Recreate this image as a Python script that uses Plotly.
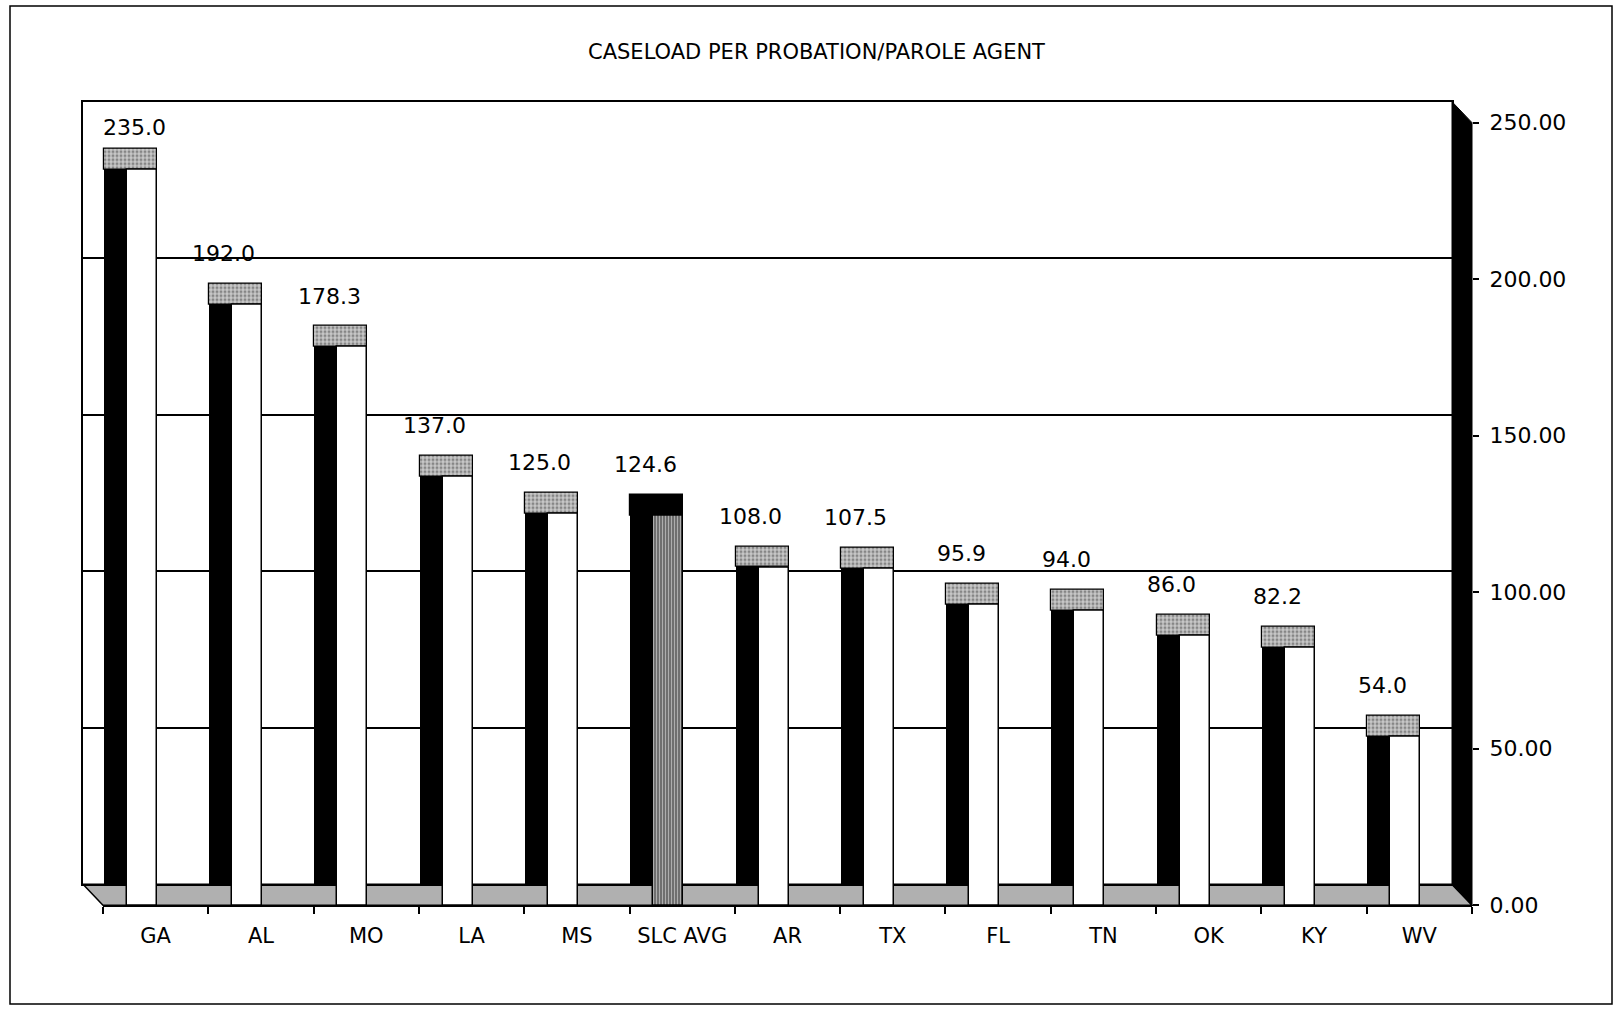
import plotly.graph_objects as go

# ---------------- data ----------------
categories = ["GA", "AL", "MO", "LA", "MS", "SLC AVG", "AR", "TX", "FL", "TN", "OK", "KY", "WV"]
caseload = [235.0, 192.0, 178.3, 137.0, 125.0, 124.6, 108.0, 107.5, 95.9, 94.0, 86.0, 82.2, 54.0]
value_labels = ["235.0", "192.0", "178.3", "137.0", "125.0", "124.6", "108.0",
                "107.5", "95.9", "94.0", "86.0", "82.2", "54.0"]
average_category = "SLC AVG"
y_tick_values = [0, 50, 100, 150, 200, 250]
y_tick_labels = ["0.00", "50.00", "100.00", "150.00", "200.00", "250.00"]
title_text = "CASELOAD PER PROBATION/PAROLE AGENT"

# ---------------- layout geometry (pixels of the reference frame) ----------------
W, H = 1616, 1010
Y_STRETCH, Y_SHIFT = 1.022, -12        # compensates the vertical squeeze of the capture
HF = round(H * Y_STRETCH)
FRONT = dict(x0=103, x1=1472, y_top=123, y_bot=908)   # front plane of the 3D box
DX, DY = 20, 21                                         # depth offset of the back wall
BACK = dict(x0=FRONT["x0"] - DX, x1=FRONT["x1"] - DX,
            y_top=FRONT["y_top"] - DY, y_bot=FRONT["y_bot"] - DY)
Y_MAX = 250
n = len(categories)
cat_px = (FRONT["x1"] - FRONT["x0"]) / n
px_per_unit = (FRONT["y_bot"] - FRONT["y_top"]) / Y_MAX
depth_units = DY / px_per_unit

BAR_W = 30 / cat_px
BAR_OFF = -14 / cat_px - BAR_W / 2
SIDE_EXTRA = 3 / cat_px
SIDE_W = BAR_W + SIDE_EXTRA
SIDE_OFF = BAR_OFF - SIDE_EXTRA
TOP_W = SIDE_W + DX / cat_px

FONT = "DejaVu Sans"
LABEL_SIZE = 22
LABEL_DX, LABEL_DY = -37, 50
LABEL_MIN_CENTRE_Y = FRONT["y_top"] + 6


def fx(px):
    return px / W


def fy(py):
    return 1 - py / H


def text_width(s, size):
    return sum(0.318 if ch == "." else 0.636 for ch in s) * size


is_avg = [c == average_category for c in categories]

fig = go.Figure()

# back plane: side faces (black) and top faces (speckled)
fig.add_trace(go.Bar(
    x=categories, y=caseload, width=SIDE_W, offset=SIDE_OFF,
    marker=dict(color="black", line=dict(width=0)),
    xaxis="x", yaxis="y", showlegend=False, hoverinfo="skip"))

fig.add_trace(go.Bar(
    x=categories, y=[depth_units] * n, base=[v - depth_units for v in caseload],
    width=TOP_W, offset=SIDE_OFF,
    marker=dict(
        color=["black" if a else "#c8c8c8" for a in is_avg],
        pattern=dict(shape=["" if a else "." for a in is_avg],
                     fgcolor="black", bgcolor="#d8d8d8", size=4, solidity=0.45),
        line=dict(color="black", width=1.2)),
    xaxis="x", yaxis="y", showlegend=False, hoverinfo="skip"))

# front faces
fig.add_trace(go.Bar(
    x=categories, y=caseload, width=BAR_W, offset=BAR_OFF,
    marker=dict(
        color=["#5a5a5a" if a else "white" for a in is_avg],
        pattern=dict(shape=["|" if a else "" for a in is_avg],
                     fgcolor="#111111", bgcolor="#777777", size=3, solidity=0.5),
        line=dict(color="black", width=1.5)),
    xaxis="x2", yaxis="y2", showlegend=False,
    hovertemplate="%{x}: %{y:.1f}<extra></extra>"))

# value labels (kept inside the front plane)
for i, (c, v, t) in enumerate(zip(categories, caseload, value_labels)):
    centre_x = FRONT["x0"] + (i + 0.5) * cat_px
    xshift = max(LABEL_DX, FRONT["x0"] + text_width(t, LABEL_SIZE) / 2 - centre_x)
    top_y = FRONT["y_bot"] - v * px_per_unit
    dy = min(LABEL_DY, top_y - LABEL_MIN_CENTRE_Y)
    fig.add_annotation(x=c, y=v, xref="x2", yref="y2", text=t, showarrow=False,
                       xshift=xshift, yshift=dy * Y_STRETCH,
                       font=dict(family=FONT, size=LABEL_SIZE, color="black"))

# title
fig.add_annotation(x=fx(816), y=fy(52), xref="paper", yref="paper", text=title_text,
                   showarrow=False, xanchor="center", yanchor="middle",
                   font=dict(family=FONT, size=21, color="black"))

shapes = []
# floor
shapes.append(dict(type="path", xref="paper", yref="paper", layer="between",
                   path=f"M {fx(BACK['x0'])},{fy(BACK['y_bot'])} L {fx(BACK['x1'])},{fy(BACK['y_bot'])} "
                        f"L {fx(FRONT['x1'])},{fy(FRONT['y_bot'])} L {fx(FRONT['x0'])},{fy(FRONT['y_bot'])} Z",
                   fillcolor="#b0b0b0", line=dict(color="black", width=1.5)))
# right side wall (black)
shapes.append(dict(type="path", xref="paper", yref="paper", layer="above",
                   path=f"M {fx(BACK['x1'])},{fy(BACK['y_top'])} L {fx(FRONT['x1'])},{fy(FRONT['y_top'])} "
                        f"L {fx(FRONT['x1'])},{fy(FRONT['y_bot'])} L {fx(BACK['x1'])},{fy(BACK['y_bot'])} Z",
                   fillcolor="black", line=dict(color="black", width=1)))
# outer frame
shapes.append(dict(type="rect", xref="paper", yref="paper", layer="above",
                   x0=fx(10), y0=fy(1007), x1=fx(1612), y1=fy(6),
                   line=dict(color="black", width=1.5)))

fig.update_layout(
    width=W, height=HF, margin=dict(l=0, r=0, t=0, b=0),
    paper_bgcolor="white", plot_bgcolor="rgba(0,0,0,0)",
    barmode="overlay", bargap=0, showlegend=False,
    shapes=shapes,
    xaxis=dict(domain=[fx(BACK["x0"]), fx(BACK["x1"])], type="category",
               categoryorder="array", categoryarray=categories,
               range=[-0.5, n - 0.5], showticklabels=False, ticks="",
               showgrid=False, zeroline=False, showline=True, mirror=True,
               linecolor="black", linewidth=2, anchor="y", fixedrange=True),
    yaxis=dict(domain=[fy(BACK["y_bot"]), fy(BACK["y_top"])], range=[0, Y_MAX],
               tickvals=y_tick_values, showticklabels=False, ticks="",
               showgrid=True, gridcolor="black", gridwidth=1.5, zeroline=False,
               showline=True, mirror=True, linecolor="black", linewidth=2,
               anchor="x", fixedrange=True),
    xaxis2=dict(domain=[fx(FRONT["x0"]), fx(FRONT["x1"])], type="category",
                categoryorder="array", categoryarray=categories,
                range=[-0.5, n - 0.5], anchor="y2",
                tickson="boundaries", ticks="outside", ticklen=7, tickwidth=1.5,
                tickcolor="black", ticklabelstandoff=10,
                tickfont=dict(family=FONT, size=21, color="black"),
                showgrid=False, zeroline=False, showline=True,
                linecolor="black", linewidth=2, fixedrange=True),
    yaxis2=dict(domain=[fy(FRONT["y_bot"]), fy(FRONT["y_top"])], range=[0, Y_MAX],
                anchor="x2", side="right",
                tickvals=y_tick_values, ticktext=y_tick_labels,
                ticks="outside", ticklen=6, tickwidth=1.5, tickcolor="black",
                ticklabelstandoff=6,
                tickfont=dict(family=FONT, size=22, color="black"),
                showgrid=False, zeroline=False, showline=False, fixedrange=True),
)

# pin the chart to the page corner so it fills the window exactly
post = ("document.body.style.margin='0';document.body.style.overflow='hidden';"
        "var d=document.getElementById('{plot_id}');"
        f"d.style.position='fixed';d.style.left='0px';d.style.top='{Y_SHIFT}px';")

fig.write_html("out.html", post_script=post, config={"displayModeBar": False})
